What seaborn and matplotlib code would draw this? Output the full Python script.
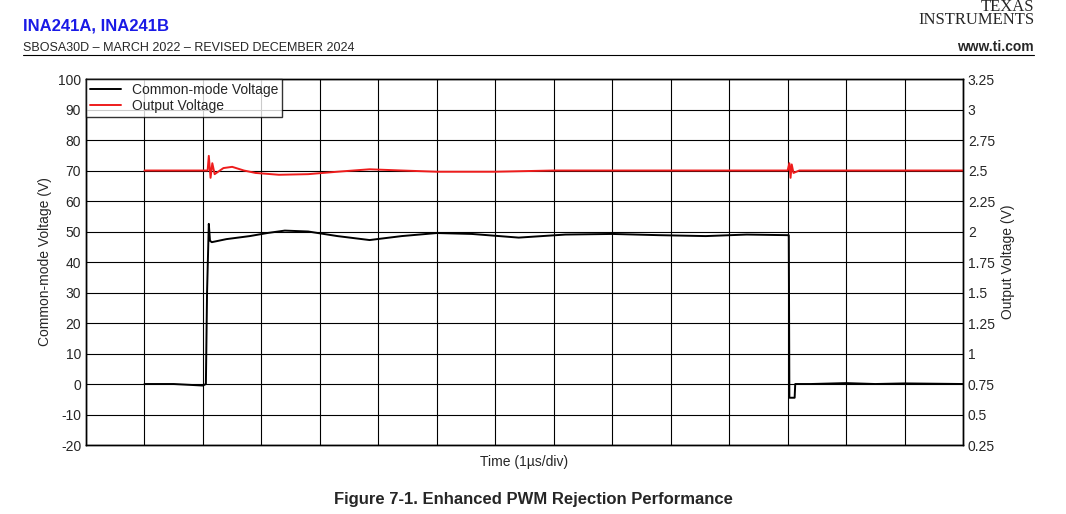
import matplotlib
matplotlib.use("Agg")
import matplotlib.pyplot as plt
import seaborn as sns
import pandas as pd

# time in divisions (1 us/div)
cm_time = [1.0, 1.5, 2.0, 2.05, 2.07, 2.1, 2.12, 2.15, 2.4, 2.8, 3.1, 3.4, 3.8, 4.3, 4.85, 5.4,
           6.0, 6.6, 7.4, 8.2, 9.0, 9.8, 10.6, 11.3, 12.0, 12.02, 12.03, 12.12, 12.13, 12.4,
           13.0, 13.5, 14.0, 15.0]
cm_volt = [0.0, 0.0, -0.5, 0.0, 30.0, 52.5, 47.0, 46.5, 47.5, 48.5, 49.5, 50.3, 50.0, 48.5,
           47.2, 48.5, 49.5, 49.2, 48.0, 49.0, 49.2, 48.8, 48.5, 49.0, 48.8, 48.8, -4.5, -4.5,
           0.0, 0.0, 0.3, 0.0, 0.2, 0.0]

out_time = [1.0, 1.5, 2.0, 2.08, 2.1, 2.13, 2.16, 2.2, 2.35, 2.5, 2.7, 2.9, 3.3, 3.8, 4.3,
            4.85, 5.4, 6.0, 7.0, 8.0, 9.0, 10.0, 11.0, 12.0, 12.03, 12.05, 12.07, 12.1, 12.2,
            13.0, 14.0, 15.0]
out_volt = [2.5, 2.5, 2.5, 2.5, 2.62, 2.44, 2.56, 2.47, 2.52, 2.53, 2.5, 2.48, 2.465, 2.47,
            2.49, 2.51, 2.5, 2.49, 2.49, 2.5, 2.5, 2.5, 2.5, 2.5, 2.56, 2.44, 2.55, 2.48,
            2.5, 2.5, 2.5, 2.5]

sns.set_style("white")
plt.rcParams['font.family'] = ['Liberation Sans', 'DejaVu Sans']
plt.rcParams['axes.unicode_minus'] = False

fig = plt.figure(figsize=(10.66, 5.14), dpi=100)
ax = fig.add_axes([0.0807, 0.1342, 0.8227, 0.7121])
ax2 = ax.twinx()

cm = pd.DataFrame({"t": cm_time, "v": cm_volt})
ov = pd.DataFrame({"t": out_time, "v": out_volt})
sns.lineplot(data=cm, x="t", y="v", ax=ax, color="black", lw=1.4, legend=False)
sns.lineplot(data=ov, x="t", y="v", ax=ax2, color="#ee1c1c", lw=1.4, legend=False)

ax.set_xlim(0, 15)
ax.set_ylim(-20, 100)
ax2.set_ylim(0.25, 3.25)
ax.set_xticks(range(16))
ax.set_xticklabels([])
ax.tick_params(axis='x', length=0)
ax.set_yticks(range(-20, 101, 10))
ax2.set_yticks([0.25 + 0.25 * i for i in range(13)])
ax2.set_yticklabels(["0.25", "0.5", "0.75", "1", "1.25", "1.5", "1.75", "2", "2.25", "2.5", "2.75", "3", "3.25"])
ax.grid(True, color="black", lw=0.8)
ax.tick_params(axis='y', labelsize=10, length=0)
ax2.tick_params(axis='y', labelsize=10, length=0)
for a in (ax, ax2):
    for s in a.spines.values():
        s.set_color("black")
        s.set_linewidth(1.0)
ax.set_xlabel("Time (1\u00b5s/div)", fontsize=10)
ax.set_ylabel("Common-mode Voltage (V)", fontsize=10)
ax2.set_ylabel("Output Voltage (V)", fontsize=10)
ax2.set_xlabel("")

h1 = plt.Line2D([], [], color="black", lw=1.4)
h2 = plt.Line2D([], [], color="#ee1c1c", lw=1.4)
leg = ax2.legend([h1, h2], ["Common-mode Voltage", "Output Voltage"], loc="upper left",
                 fontsize=10, frameon=True, fancybox=False, edgecolor="black",
                 borderaxespad=0, handlelength=2.2, labelspacing=0.1, borderpad=0.3)
leg.get_frame().set_linewidth(1.0)

fig.text(0.022, 0.94, "INA241A, INA241B", color="#1a1ae6", fontsize=12, fontweight="bold")
fig.text(0.022, 0.9, "SBOSA30D \u2013 MARCH 2022 \u2013 REVISED DECEMBER 2024", fontsize=9)
fig.text(0.97, 0.945, "TEXAS\nINSTRUMENTS", fontsize=12, ha="right", va="bottom",
         family=["Liberation Serif"], linespacing=0.75)
fig.text(0.97, 0.9, "www.ti.com", fontsize=10, ha="right", fontweight="bold")
fig.add_artist(plt.Line2D([0.022, 0.97], [0.893, 0.893], color="black", lw=0.8))
fig.text(0.5, 0.02, "Figure 7-1. Enhanced PWM Rejection Performance", fontsize=12,
         fontweight="bold", ha="center")

fig.savefig("out.png", dpi=100)
